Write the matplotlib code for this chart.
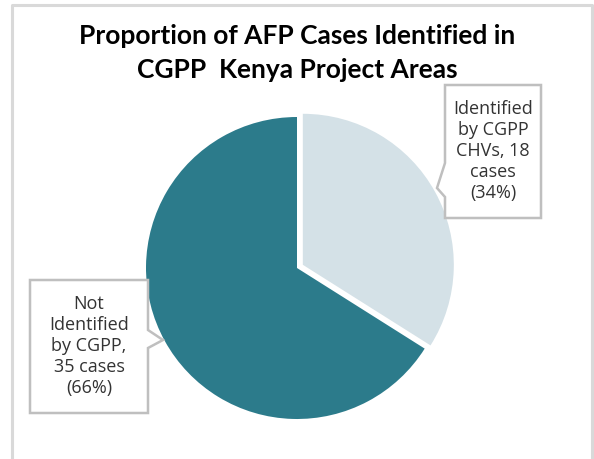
import matplotlib
matplotlib.use("Agg")
import matplotlib.pyplot as plt
from matplotlib.patches import Polygon

categories = ["Identified by CGPP CHVs", "Not Identified by CGPP"]
cases = [18, 35]
labels = ["Identified\nby CGPP\nCHVs, 18\ncases\n(34%)",
          "Not\nIdentified\nby CGPP,\n35 cases\n(66%)"]
colors = ["#D4E1E7", "#2C7B8B"]
title = "Proportion of AFP Cases Identified in\nCGPP  Kenya Project Areas"

W, H = 594, 459
fig = plt.figure(figsize=(W / 100, H / 100), dpi=100)
fig.patch.set_facecolor("white")

def fx(px): return px / W
def fy(py): return 1 - py / H
fig.add_artist(plt.Line2D([fx(12), fx(12), fx(592), fx(592)],
                          [0, fy(5), fy(5), 0], color="#D9D9D9", lw=2.2,
                          transform=fig.transFigure))

cx, cy, R = 297, 268, 151
ax = fig.add_axes([0, 0, 1, 1])
ax.pie(cases, colors=colors, startangle=90, counterclock=False,
       explode=[0.044, 0], radius=1, center=(0, 0), frame=False,
       wedgeprops=dict(linewidth=0))
ax.set_xlim(-cx / R, (W - cx) / R)
ax.set_ylim((cy - H) / R, cy / R)
ax.set_aspect("auto")
ax.axis("off")

def d(px, py):
    return ((px - cx) / R, (cy - py) / R)

right_box = [d(445, 85), d(541, 85), d(541, 218), d(445, 218), d(445, 197),
             d(437, 188), d(445, 163)]
left_box = [d(30, 280), d(148, 280), d(148, 330), d(163, 340), d(148, 348),
            d(148, 413), d(30, 413)]
for poly in (right_box, left_box):
    ax.add_patch(Polygon(poly, closed=True, facecolor="white",
                         edgecolor="#BFBFBF", lw=1.8, zorder=5))

tx, ty = d(493, 151)
ax.text(tx, ty, labels[0], ha="center", va="center", fontsize=13,
        family="Open Sans", color="#333333", linespacing=1.22, zorder=6)
tx, ty = d(89, 346)
ax.text(tx, ty, labels[1], ha="center", va="center", fontsize=13,
        family="Open Sans", color="#333333", linespacing=1.22, zorder=6)

fig.text(0.5, fy(53), title, ha="center", va="center", fontsize=19,
         fontweight="bold", family="Lato", color="black", linespacing=1.55)

fig.savefig("out.png", dpi=100)
